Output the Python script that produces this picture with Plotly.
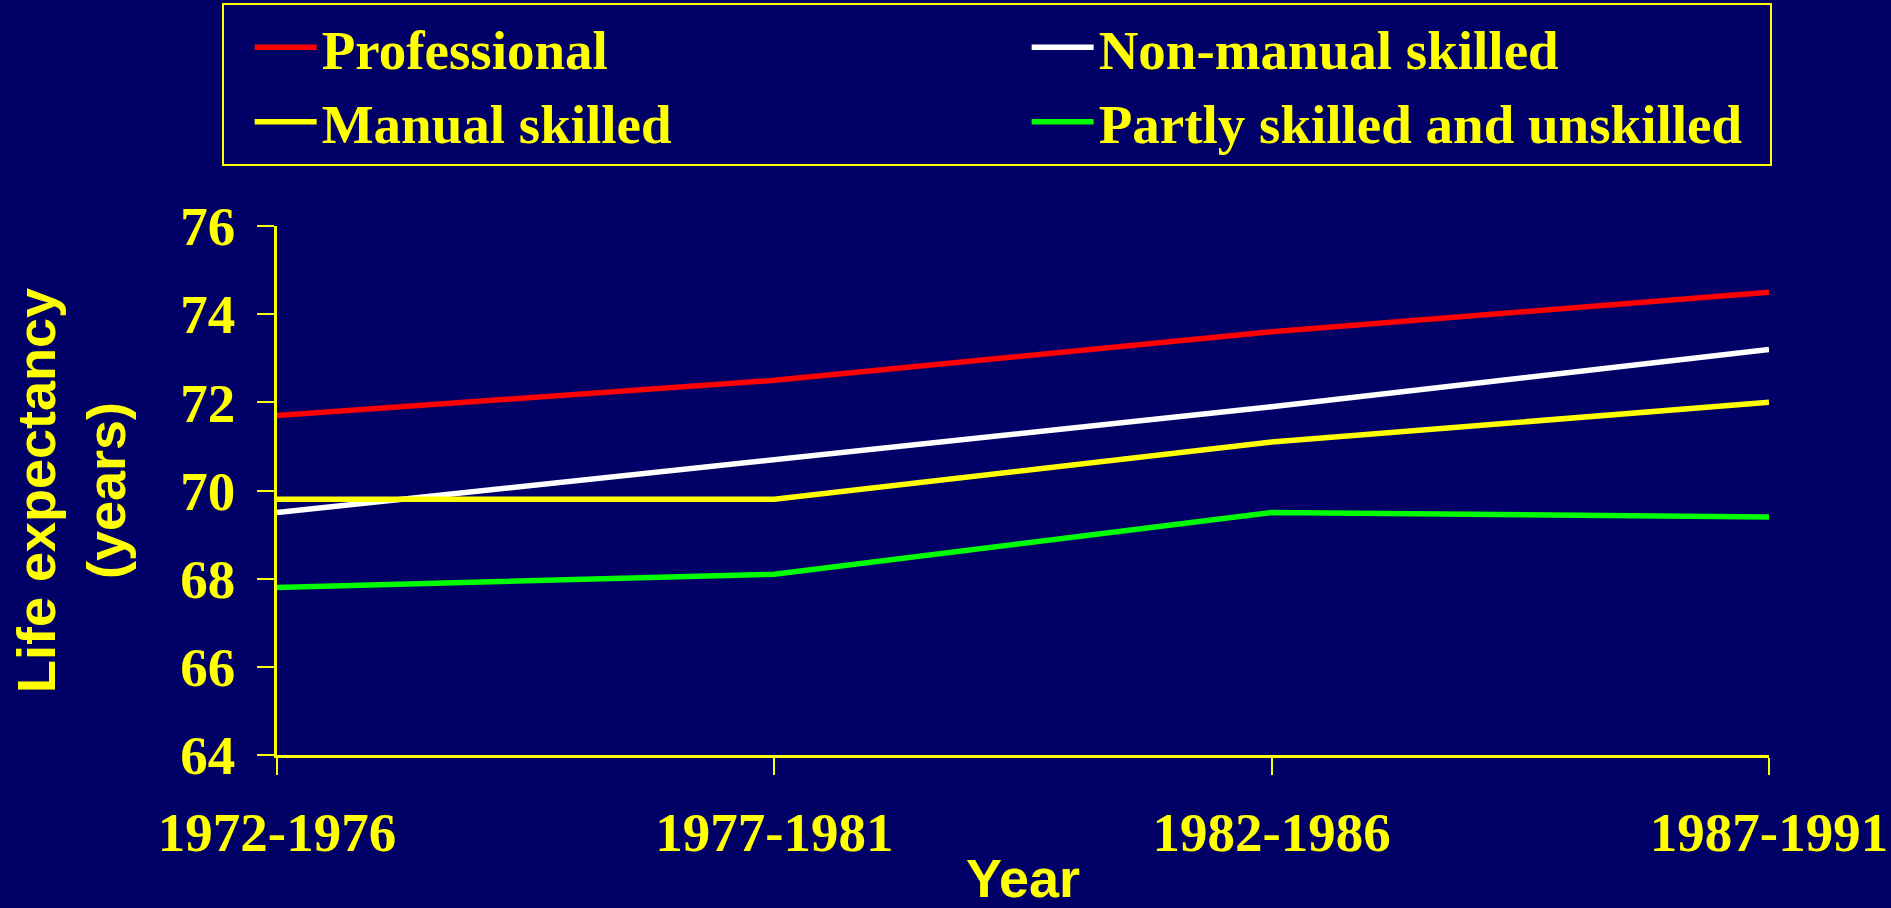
import plotly.graph_objects as go

periods = ["1972-1976", "1977-1981", "1982-1986", "1987-1991"]
professional = [71.7, 72.5, 73.6, 74.5]
non_manual_skilled = [69.5, 70.7, 71.9, 73.2]
manual_skilled = [69.8, 69.8, 71.1, 72.0]
partly_unskilled = [67.8, 68.1, 69.5, 69.4]

series_names = ["Professional", "Non-manual skilled", "Manual skilled",
                "Partly skilled and unskilled"]
series_values = [professional, non_manual_skilled, manual_skilled, partly_unskilled]
series_colors = ["#FF0000", "#FFFFFF", "#FFFF00", "#00FF00"]
col_widths = [700, 666, 700, 666]

y_ticks = [64, 66, 68, 70, 72, 74, 76]

BG = "#000066"
YEL = "#FFFF00"
SERIF = "Liberation Serif, Times New Roman, serif"
SANS = "Liberation Sans, Arial, sans-serif"

fig = go.Figure()
for name, vals, col, lw in zip(series_names, series_values, series_colors, col_widths):
    fig.add_trace(go.Scatter(
        x=periods, y=vals, name=name, mode="lines",
        line=dict(color=col, width=5.5),
        legendwidth=lw,
    ))

fig.update_layout(
    width=1891, height=908,
    paper_bgcolor=BG, plot_bgcolor=BG,
    margin=dict(l=277, r=122, t=226, b=153, autoexpand=False),
    showlegend=True,
    legend=dict(
        orientation="h",
        x=-0.0371, xanchor="left",
        y=1.4216, yanchor="top",
        bgcolor="rgba(0,0,0,0)",
        bordercolor=YEL, borderwidth=2,
        font=dict(family=SERIF, size=55, color=YEL, weight="bold"),
        itemwidth=62,
        entrywidth=700, entrywidthmode="pixels",
        title=dict(text="\u00a0\u00a0", side="left",
                   font=dict(family=SERIF, size=32, color=YEL)),
        traceorder="normal",
    ),
    xaxis=dict(
        type="category", range=[0, 3], automargin=False,
        showline=True, linecolor=YEL, linewidth=2.5,
        ticks="outside", ticklen=17, tickwidth=2, tickcolor=YEL,
        showgrid=False, zeroline=False,
        tickfont=dict(family=SERIF, size=55, color=YEL, weight="bold"),
        ticklabelstandoff=10,
        title=dict(text="Year", standoff=20,
                   font=dict(family=SANS, size=54, color=YEL, weight="bold")),
    ),
    yaxis=dict(
        range=[64, 76], tickvals=y_ticks, automargin=False,
        showline=True, linecolor=YEL, linewidth=2.5,
        ticks="outside", ticklen=17, tickwidth=2, tickcolor=YEL,
        showgrid=False, zeroline=False,
        tickfont=dict(family=SERIF, size=55, color=YEL, weight="bold"),
        ticklabelstandoff=11,
        title=dict(text="Life expectancy<br>(years)", standoff=38,
                   font=dict(family=SANS, size=54, color=YEL, weight="bold")),
    ),
)

fig.write_html("out.html")
